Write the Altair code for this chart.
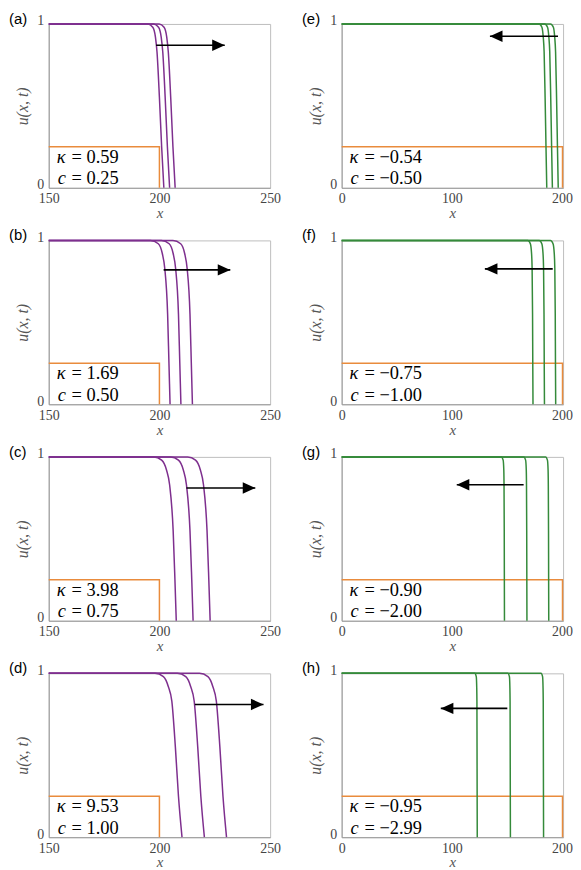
import altair as alt
import pandas as pd

# ---------------- data ----------------
U_LEVELS = [1.0, 1.0, 0.98, 0.92, 0.83, 0.55, 0.25, 0.0]

FRONTS_A = [[150, 194.8, 197.0, 198.2, 198.9, 200.0, 201.0, 202.0],
            [150, 197.4, 199.6, 200.8, 201.5, 202.6, 203.6, 204.6],
            [150, 199.9, 202.1, 203.3, 204.0, 205.1, 206.1, 207.1]]
FRONTS_B = [[150, 196.0, 199.5, 201.3, 202.4, 203.7, 204.3, 204.8],
            [150, 200.9, 204.4, 206.2, 207.3, 208.6, 209.2, 209.7],
            [150, 206.1, 209.6, 211.4, 212.5, 213.8, 214.4, 214.9]]
FRONTS_C = [[150, 197.5, 201.0, 203.2, 204.6, 206.2, 207.0, 207.6],
            [150, 205.1, 208.6, 210.8, 212.2, 213.8, 214.6, 215.2],
            [150, 212.8, 216.3, 218.5, 219.9, 221.5, 222.3, 222.9]]
FRONTS_D = [[150, 198.0, 201.8, 204.0, 205.6, 207.2, 208.6, 210.2],
            [150, 208.1, 211.9, 214.1, 215.7, 217.3, 218.7, 220.3],
            [150, 218.1, 221.9, 224.1, 225.7, 227.3, 228.7, 230.3]]
FRONTS_E = [[0, 179.2, 181.8, 183.0, 183.8, 184.7, 185.5, 186.2],
            [0, 184.3, 186.9, 188.1, 188.9, 189.8, 190.6, 191.3],
            [0, 189.6, 192.2, 193.4, 194.2, 195.1, 195.9, 196.6]]
FRONTS_F = [[0, 169.0, 171.3, 172.4, 172.9, 173.3, 173.5, 173.7],
            [0, 179.4, 181.7, 182.8, 183.3, 183.7, 183.9, 184.1],
            [0, 189.6, 191.9, 193.0, 193.5, 193.9, 194.1, 194.3]]
FRONTS_G = [[0, 145.0, 146.6, 147.2, 147.4, 147.6, 147.7, 147.8],
            [0, 165.4, 167.0, 167.6, 167.8, 168.0, 168.1, 168.2],
            [0, 185.2, 186.8, 187.4, 187.6, 187.8, 187.9, 188.0]]
FRONTS_H = [[0, 120.8, 122.2, 122.6, 122.8, 122.9, 123.0, 123.1],
            [0, 150.9, 152.3, 152.7, 152.9, 153.0, 153.1, 153.2],
            [0, 181.0, 182.4, 182.8, 183.0, 183.1, 183.2, 183.3]]

PANEL_LABELS = ["(a)", "(b)", "(c)", "(d)", "(e)", "(f)", "(g)", "(h)"]
KAPPA = ["0.59", "1.69", "3.98", "9.53", "−0.54", "−0.75", "−0.90", "−0.95"]
SPEED = ["0.25", "0.50", "0.75", "1.00", "−0.50", "−1.00", "−2.00", "−2.99"]

ARROW_START = [198.5, 201.9, 212.2, 216.0, 196.4, 191.6, 165.2, 150.4]
ARROW_TIP = [229.5, 232.0, 243.3, 247.0, 134.6, 130.0, 104.5, 90.0]
ARROW_U = [0.87, 0.82, 0.81, 0.81, 0.925, 0.826, 0.83, 0.786]

ORANGE_U = [0.25, 0.25, 0.25, 0.25, 0.25, 0.25, 0.25, 0.25]
ORANGE_X = [200, 200, 200, 200, 200.5, 200.5, 200.5, 200.5]

LEFT_DOMAIN = [150, 250]
RIGHT_DOMAIN = [0, 201]
LEFT_TICKS = [150, 200, 250]
RIGHT_TICKS = [0, 100, 200]
Y_TICKS = [0, 1]

PURPLE = "#7E2F8E"
GREEN = "#348a3a"
ORANGE = "#E98B3C"

SERIF = "Liberation Serif"
W, H = 223, 165


def panel(i, fronts, color, xdom, xticks):
    rows = []
    for c, xs in enumerate(fronts):
        for k, (x, u) in enumerate(zip(xs, U_LEVELS)):
            rows.append({"x": x, "u": u, "curve": c, "k": k})
    df = pd.DataFrame(rows)

    xs = alt.Scale(domain=xdom, nice=False, zero=False)
    ys = alt.Scale(domain=[0, 1], nice=False, zero=False)
    x_axis = alt.Axis(values=xticks, title="x", labelFlush=False, ticks=False,
                      labelPadding=4, titlePadding=0, titleFontSize=15, format="d")
    y_axis = alt.Axis(values=Y_TICKS, title="u(x, t)", labelFlush=False, ticks=False,
                      labelPadding=5, titlePadding=6, format="d", labelOffset=-3)

    lines = alt.Chart(df).mark_line(color=color, strokeWidth=1.5, interpolate="monotone").encode(
        x=alt.X("x:Q", scale=xs, axis=x_axis),
        y=alt.Y("u:Q", scale=ys, axis=y_axis),
        detail="curve:N",
        order="k:Q",
    )

    odf = pd.DataFrame({"x": [xdom[0], ORANGE_X[i], ORANGE_X[i]],
                        "u": [ORANGE_U[i], ORANGE_U[i], 0.0],
                        "k": [0, 1, 2]})
    orange = alt.Chart(odf).mark_line(color=ORANGE, strokeWidth=1.5).encode(
        x=alt.X("x:Q", scale=xs), y=alt.Y("u:Q", scale=ys), order="k:Q")

    adf = pd.DataFrame({"x": [ARROW_START[i]], "x2": [ARROW_TIP[i]], "u": [ARROW_U[i]]})
    rule = alt.Chart(adf).mark_rule(color="black", strokeWidth=1.7).encode(
        x=alt.X("x:Q", scale=xs), x2="x2:Q", y=alt.Y("u:Q", scale=ys))
    if ARROW_TIP[i] > ARROW_START[i]:
        shape = "M0,0L-2,-0.9L-2,0.9Z"
    else:
        shape = "M0,0L2,-0.9L2,0.9Z"
    head = alt.Chart(adf).mark_point(shape=shape, filled=True, size=160, color="black",
                                     opacity=1, strokeWidth=0).encode(
        x=alt.X("x2:Q", scale=xs), y=alt.Y("u:Q", scale=ys))

    tdf = pd.DataFrame({"k": ["κ"], "kv": ["= " + KAPPA[i]], "c": ["c"], "cv": ["= " + SPEED[i]]})
    base = alt.Chart(tdf)
    fs = 18.5
    t1 = base.mark_text(font=SERIF, fontSize=fs, fontStyle="italic", align="left",
                        baseline="alphabetic", color="black").encode(
        text="k:N", x=alt.value(8), y=alt.value(H - 25))
    t2 = base.mark_text(font=SERIF, fontSize=fs, align="left",
                        baseline="alphabetic", color="black").encode(
        text="kv:N", x=alt.value(23), y=alt.value(H - 25))
    t3 = base.mark_text(font=SERIF, fontSize=fs, fontStyle="italic", align="left",
                        baseline="alphabetic", color="black").encode(
        text="c:N", x=alt.value(9), y=alt.value(H - 3.5))
    t4 = base.mark_text(font=SERIF, fontSize=fs, align="left",
                        baseline="alphabetic", color="black").encode(
        text="cv:N", x=alt.value(23), y=alt.value(H - 3.5))

    return alt.layer(orange, lines, rule, head, t1, t2, t3, t4).properties(
        width=W, height=H,
        title=alt.TitleParams(text=PANEL_LABELS[i], anchor="start", frame="group", dx=-40,
                              font="Liberation Sans", fontSize=15, fontWeight="normal",
                              color="black", offset=-13),
    )


left = [FRONTS_A, FRONTS_B, FRONTS_C, FRONTS_D]
right = [FRONTS_E, FRONTS_F, FRONTS_G, FRONTS_H]
rows = []
for r in range(4):
    lp = panel(r, left[r], PURPLE, LEFT_DOMAIN, LEFT_TICKS)
    rp = panel(r + 4, right[r], GREEN, RIGHT_DOMAIN, RIGHT_TICKS)
    rows.append(alt.hconcat(lp, rp, spacing=20))

chart = alt.vconcat(*rows, spacing=6).properties(
    padding={"left": 0, "top": 0, "right": 0, "bottom": 0}
).configure_view(stroke="#bdbdbd", strokeWidth=1).configure_axis(
    grid=False, domainColor="#9a9a9a", domainWidth=1,
    labelFont=SERIF, labelFontSize=14, labelColor="#444",
    titleFont=SERIF, titleFontSize=16, titleFontStyle="italic", titleFontWeight="normal",
    titleColor="#555",
)

chart.save("out.html", embed_options={"renderer": "svg", "actions": False})
